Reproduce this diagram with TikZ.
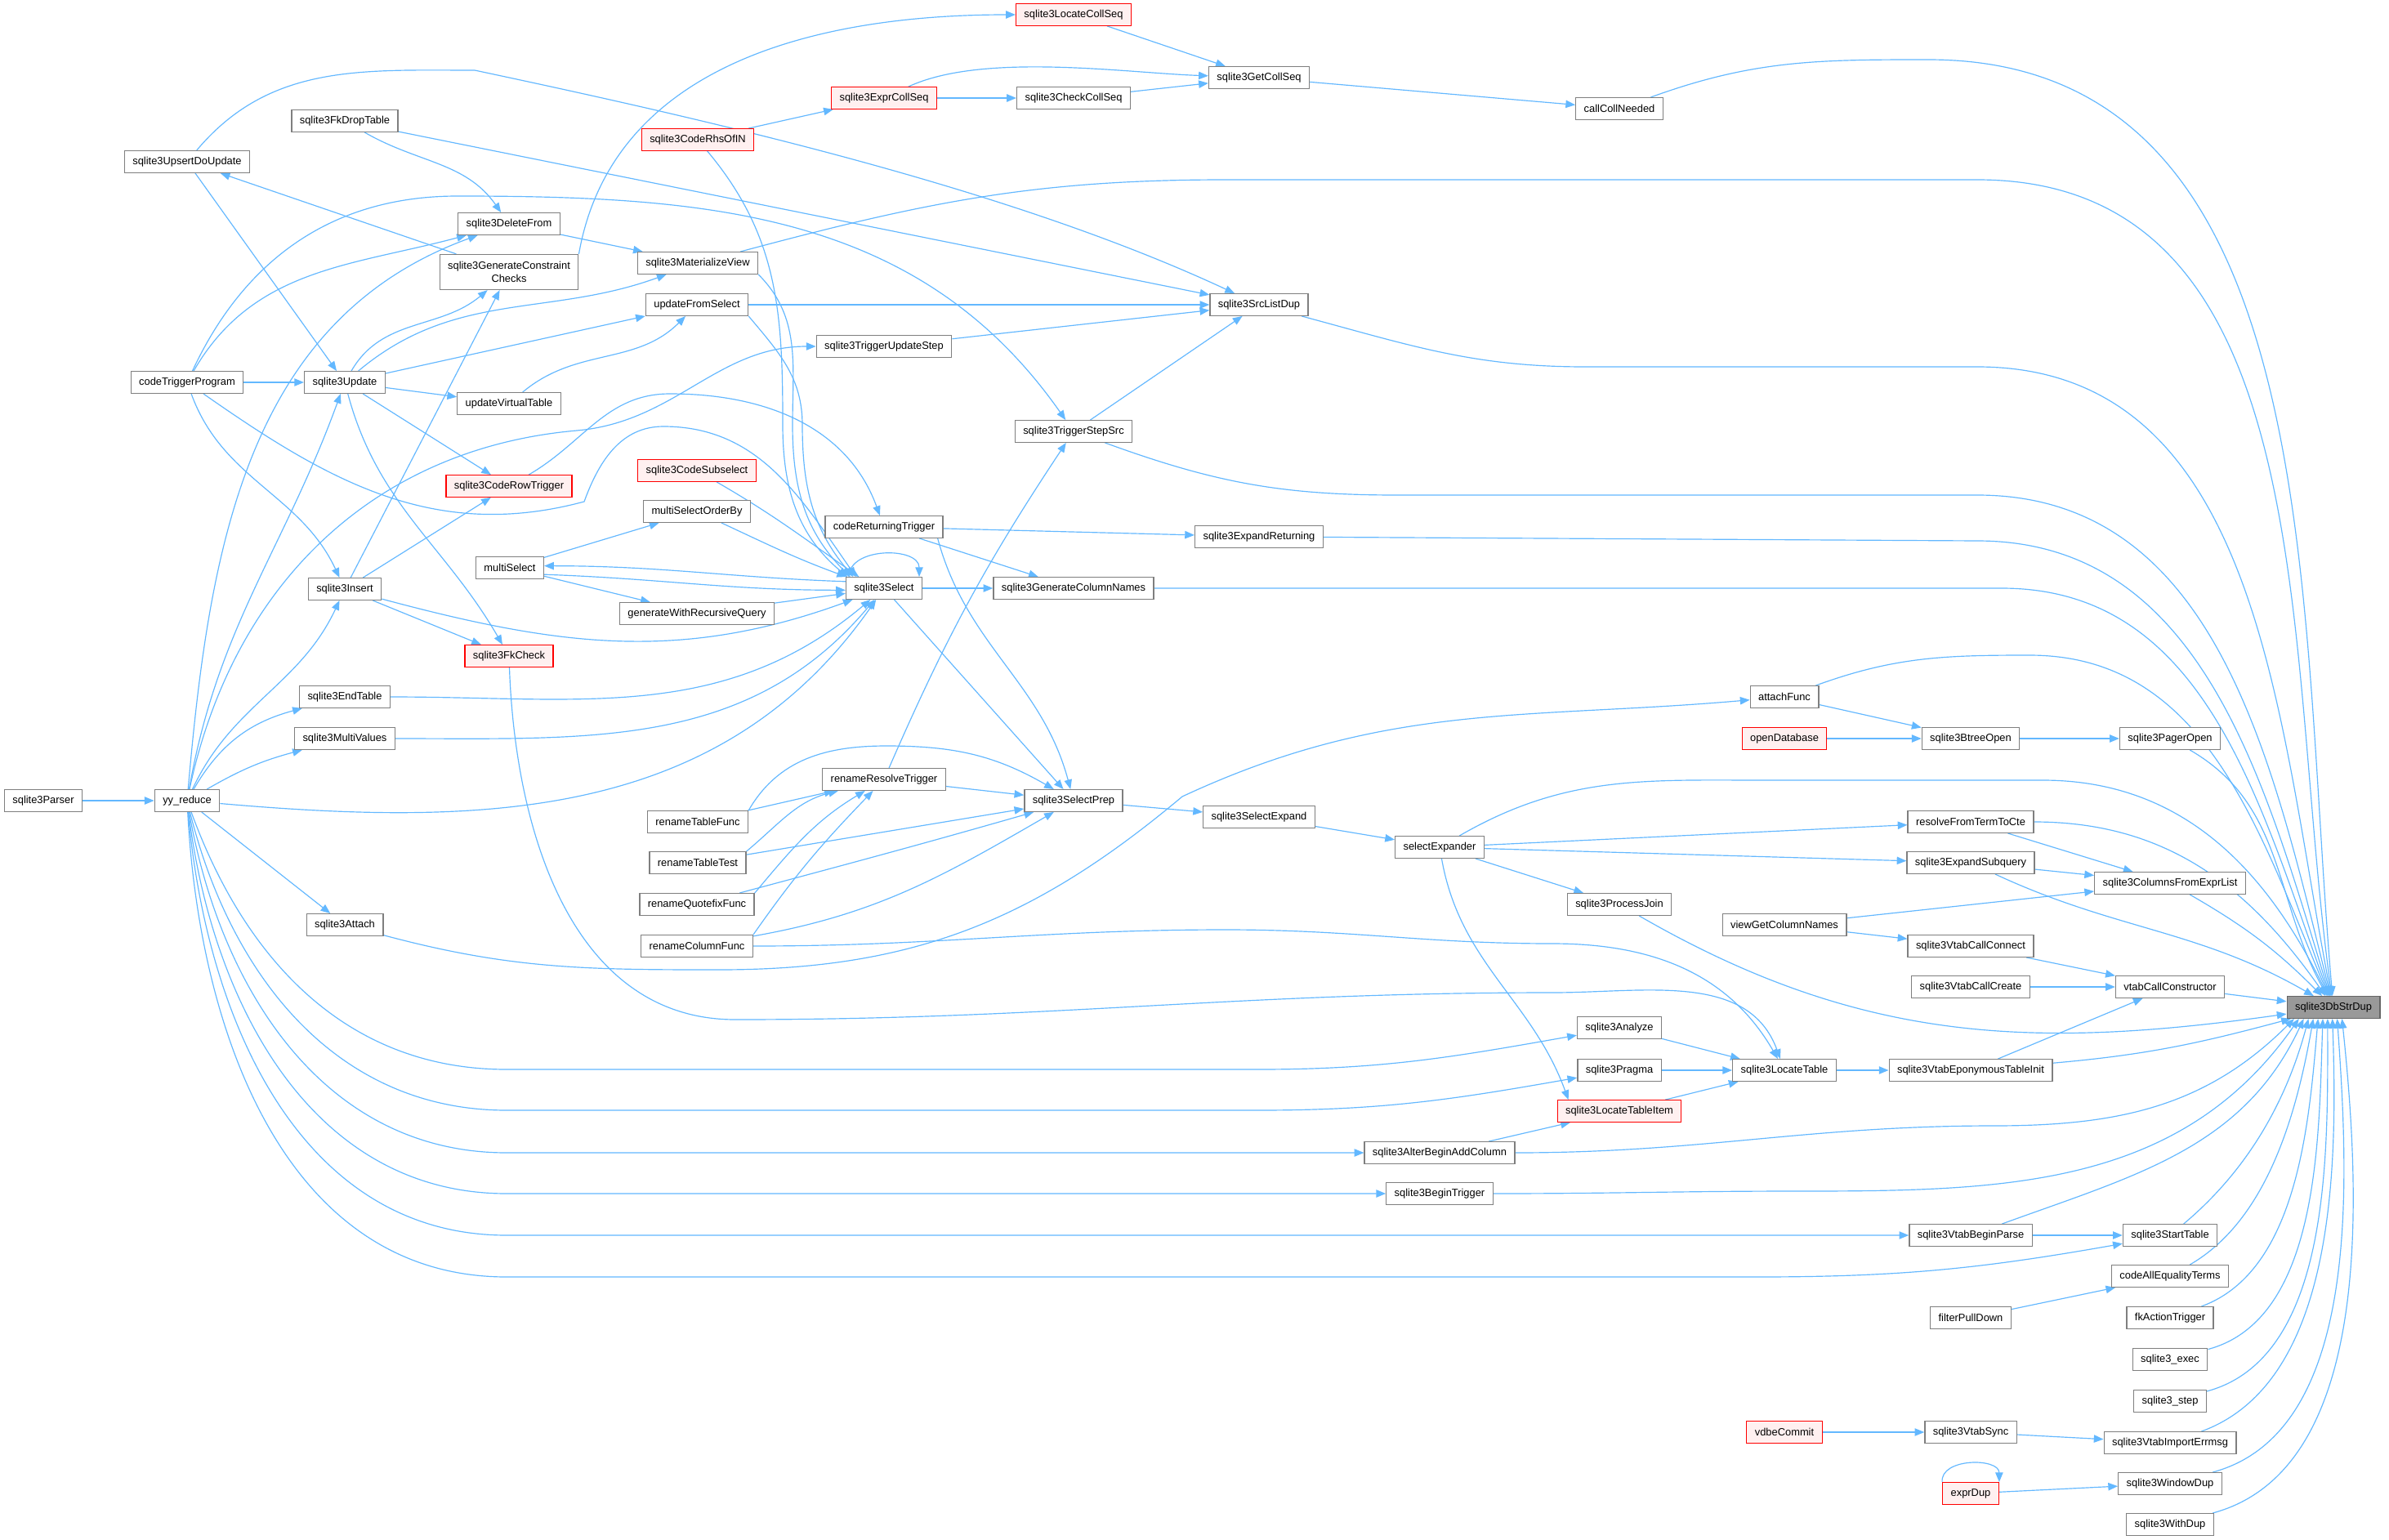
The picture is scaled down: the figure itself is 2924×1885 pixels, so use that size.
\documentclass[tikz,border=0pt]{standalone}
\usepackage{fontspec}
\setmainfont{Liberation Sans}
\usetikzlibrary{arrows.meta}
\definecolor{callblue}{HTML}{63B8FF}
\definecolor{boxgray}{HTML}{7F7F7F}
\definecolor{redfill}{HTML}{FFF0F0}
\definecolor{rootfill}{HTML}{999999}
\definecolor{rootdraw}{HTML}{666666}
\pgfdeclarelayer{paper}
\pgfdeclarelayer{wires}
\pgfsetlayers{paper,wires,main}

\begin{document}
\begin{tikzpicture}[x=0.03cm, y=0.03cm, >={Triangle[length=10pt,width=8pt]},
func/.style={draw=boxgray, fill=white, line width=1.1pt, inner xsep=8.5pt, inner ysep=0pt, minimum height=0.8cm, font=\fontsize{11}{14}\selectfont},
redfunc/.style={func, draw=red, fill=redfill, line width=1pt},
root/.style={func, draw=rootdraw, fill=rootfill},
call/.style={->, draw=callblue, line width=1pt}]

\begin{pgfonlayer}{paper}
\fill[white] (0,0) rectangle (2924,-1885);
\end{pgfonlayer}
\useasboundingbox (0,0) rectangle (2924,-1885);

\node[func]    (1)  at (53,-980)    {sqlite3Parser};
\node[func]    (2)  at (229,-198)   {sqlite3UpsertDoUpdate};
\node[func]    (3)  at (229,-468)   {codeTriggerProgram};
\node[func]    (4)  at (229,-980)   {yy\_reduce};
\node[func]    (5)  at (422,-148)   {sqlite3FkDropTable};
\node[func]    (6)  at (422,-468)   {sqlite3Update};
\node[func]    (7)  at (422,-721)   {sqlite3Insert};
\node[func]    (8)  at (422,-853)   {sqlite3EndTable};
\node[func]    (9)  at (422,-904)   {sqlite3MultiValues};
\node[func]    (10) at (422,-1132)  {sqlite3Attach};
\node[func]    (11) at (623,-274)   {sqlite3DeleteFrom};
\node[func, align=center, minimum height=1.29cm] (12) at (623,-333) {sqlite3GenerateConstraint\\Checks};
\node[func]    (13) at (623,-494)   {updateVirtualTable};
\node[redfunc] (14) at (623,-595)   {sqlite3CodeRowTrigger};
\node[func]    (15) at (624,-695)   {multiSelect};
\node[redfunc] (16) at (623,-803)   {sqlite3FkCheck};
\node[redfunc] (17) at (854,-171)   {sqlite3CodeRhsOfIN};
\node[func]    (18) at (854,-322)   {sqlite3MaterializeView};
\node[func]    (19) at (853,-373)   {updateFromSelect};
\node[redfunc] (20) at (853,-576)   {sqlite3CodeSubselect};
\node[func]    (21) at (853,-626)   {multiSelectOrderBy};
\node[func]    (22) at (853,-751)   {generateWithRecursiveQuery};
\node[func]    (23) at (854,-1006)  {renameTableFunc};
\node[func]    (24) at (854,-1056)  {renameTableTest};
\node[func]    (25) at (853,-1107)  {renameQuotefixFunc};
\node[func]    (26) at (853,-1158)  {renameColumnFunc};
\node[redfunc] (27) at (1082,-120)  {sqlite3ExprCollSeq};
\node[func]    (28) at (1082,-424)  {sqlite3TriggerUpdateStep};
\node[func]    (29) at (1082,-645)  {codeReturningTrigger};
\node[func]    (30) at (1082,-720)  {sqlite3Select};
\node[func]    (31) at (1082,-954)  {renameResolveTrigger};
\node[redfunc] (32) at (1314,-18)   {sqlite3LocateCollSeq};
\node[func]    (33) at (1314,-120)  {sqlite3CheckCollSeq};
\node[func]    (34) at (1314,-528)  {sqlite3TriggerStepSrc};
\node[func]    (35) at (1314,-720)  {sqlite3GenerateColumnNames};
\node[func]    (36) at (1314,-980)  {sqlite3SelectPrep};
\node[func]    (37) at (1541,-95)   {sqlite3GetCollSeq};
\node[func]    (38) at (1541,-373)  {sqlite3SrcListDup};
\node[func]    (39) at (1541,-657)  {sqlite3ExpandReturning};
\node[func]    (40) at (1541,-1000) {sqlite3SelectExpand};
\node[func]    (41) at (1762,-1037) {selectExpander};
\node[func]    (42) at (1762,-1411) {sqlite3AlterBeginAddColumn};
\node[func]    (43) at (1762,-1461) {sqlite3BeginTrigger};
\node[func]    (44) at (1982,-133)  {callCollNeeded};
\node[func]    (45) at (1982,-1107) {sqlite3ProcessJoin};
\node[func]    (46) at (1982,-1258) {sqlite3Analyze};
\node[func]    (47) at (1982,-1310) {sqlite3Pragma};
\node[redfunc] (48) at (1982,-1360) {sqlite3LocateTableItem};
\node[func]    (49) at (2184,-853)  {attachFunc};
\node[redfunc] (50) at (2184,-904)  {openDatabase};
\node[func]    (51) at (2184,-1132) {viewGetColumnNames};
\node[func]    (52) at (2184,-1310) {sqlite3LocateTable};
\node[redfunc] (53) at (2184,-1753) {vdbeCommit};
\node[func]    (54) at (2412,-904)  {sqlite3BtreeOpen};
\node[func]    (55) at (2412,-1006) {resolveFromTermToCte};
\node[func]    (56) at (2412,-1056) {sqlite3ExpandSubquery};
\node[func]    (57) at (2412,-1158) {sqlite3VtabCallConnect};
\node[func]    (58) at (2412,-1208) {sqlite3VtabCallCreate};
\node[func]    (59) at (2412,-1310) {sqlite3VtabEponymousTableInit};
\node[func]    (60) at (2412,-1512) {sqlite3VtabBeginParse};
\node[func]    (61) at (2412,-1613) {filterPullDown};
\node[func]    (62) at (2412,-1753) {sqlite3VtabSync};
\node[redfunc] (63) at (2412,-1828) {exprDup};
\node[func]    (64) at (2656,-904)  {sqlite3PagerOpen};
\node[func]    (65) at (2656,-1081) {sqlite3ColumnsFromExprList};
\node[func]    (66) at (2656,-1208) {vtabCallConstructor};
\node[func]    (67) at (2656,-1512) {sqlite3StartTable};
\node[func]    (68) at (2656,-1562) {codeAllEqualityTerms};
\node[func]    (69) at (2656,-1613) {fkActionTrigger};
\node[func]    (70) at (2656,-1664) {sqlite3\_exec};
\node[func]    (71) at (2656,-1715) {sqlite3\_step};
\node[func]    (72) at (2656,-1766) {sqlite3VtabImportErrmsg};
\node[func]    (73) at (2656,-1816) {sqlite3WindowDup};
\node[func]    (74) at (2656,-1866) {sqlite3WithDup};
\node[root]    (75) at (2856,-1233) {sqlite3DbStrDup};

\begin{pgfonlayer}{wires}
\draw[call] (1) -- (4);
\draw[call] (4) to[out=80,in=250] (6);
\draw[call] (4) to[out=85,in=200] (11);
\draw[call] (4) to[out=65,in=245] (7);
\draw[call] (4) to[out=60,in=195] (8);
\draw[call] (4) to[out=30,in=195] (9);
\draw[call] (4) -- (10);
\draw[call] (4) to[out=-5,in=235] (30);
\draw[call] (4) to[out=78,in=185] (706,-527) to[out=5,in=180] (28);
\draw[call] (4) to[out=-70,in=180] (620,-1309) -- (1540,-1309) to[out=0,in=190] (46);
\draw[call] (4) to[out=-76,in=180] (620,-1359) -- (1540,-1359) to[out=0,in=190] (47);
\draw[call] (4) to[out=-80,in=180] (620,-1411) -- (42);
\draw[call] (4) to[out=-83,in=180] (620,-1461) -- (43);
\draw[call] (4) to[out=-85,in=180] (620,-1512) -- (60);
\draw[call] (4) to[out=-87,in=180] (620,-1563) -- (2150,-1563) to[out=0,in=190] (67);
\draw[call] (3) -- (6);
\draw[call] (3) to[out=60,in=195] (11);
\draw[call] (3) to[out=65,in=180] (560,-240) to[out=0,in=125] (34);
\draw[call] (3) to[out=-70,in=115] (7);
\draw[call] (3) to[out=-35,in=195] (715,-614) to[out=70,in=180] (812,-522) to[out=0,in=125] ([xshift=11pt]30.north west);
\draw[call] (2) -- (6);
\draw[call] (2) to[out=50,in=180] (581,-86) to[out=-12,in=155,looseness=0.8] (38);
\draw[call] (5) to[out=-30,in=125] (11);
\draw[call] (5) -- (38);
\draw[call] (6) to[out=60,in=220] (12);
\draw[call] (6) to[out=40,in=200] (18);
\draw[call] (6) -- (19);
\draw[call] (6) -- (13);
\draw[call] (6) -- (14);
\draw[call] (6) to[out=-75,in=120] (16);
\draw[call] (7) -- (12);
\draw[call] (7) -- (14);
\draw[call] (7) -- (16);
\draw[call] (7) to[out=-15,in=200] (30);
\draw[call] (8) to[out=0,in=220] (30);
\draw[call] (9) to[out=0,in=230] (30);
\draw[call] (10) to[out=-15,in=180] (880,-1187) to[out=0,in=220] (1447,-975) to[out=25,in=185] (49);
\draw[call] (11) -- (18);
\draw[call] (12) -- (2);
\draw[call] (12.north east) to[out=80,in=180] (32);
\draw[call] (13) to[out=40,in=225] (19);
\draw[call] (14) to[out=30,in=180] (820,-482) to[out=0,in=110] (29);
\draw[call] (15) -- (21);
\draw[call] (15) -- (22);
\draw[call] ([yshift=7pt]30.west) to[out=178,in=0] ([yshift=2pt]15.east);
\draw[call] ([yshift=-7pt]15.east) to[out=-2,in=180] ([yshift=-2pt]30.west);
\draw[call] (16) to[out=-88,in=180] (900,-1248) to[out=0,in=180] (1900,-1215) to[out=0,in=110] (52);
\draw[call] (17) -- (27);
\draw[call] (17) to[out=-50,in=90] (958,-520) to[out=-90,in=140] ([xshift=2pt]30.north west);
\draw[call] (18) to[out=15,in=180] (1500,-220) -- (2420,-220) to[out=0,in=98] (75);
\draw[call] (18.south east) to[out=-45,in=90] (970,-520) to[out=-90,in=135] ([xshift=5pt]30.north west);
\draw[call] (19) -- (38);
\draw[call] (19.south east) to[out=-50,in=90] (982,-520) to[out=-90,in=130] ([xshift=8pt]30.north west);
\draw[call] (20) to[out=-30,in=145] ([xshift=14pt]30.north west);
\draw[call] (21) to[out=-25,in=160] ([xshift=1pt]30.north west);
\draw[call] (22) -- (30);
\draw[call] (23) -- (31);
\draw[call] (23.north east) to[out=60,in=180] (1085,-913) to[out=0,in=150] (36);
\draw[call] (24.north east) to[out=40,in=194] (31);
\draw[call] (24) -- (36);
\draw[call] (25.north east) to[out=50,in=211] (31);
\draw[call] (25) to[out=15,in=196] (36);
\draw[call] (26.north east) to[out=55,in=226] (31);
\draw[call] (26) to[out=10,in=210] (36);
\draw[call] (26) to[out=0,in=180] (1500,-1138) to[out=0,in=180] (1900,-1155) to[out=0,in=120] (52);
\draw[call] (27) -- (33);
\draw[call] (27) to[out=25,in=178,looseness=0.7] (37);
\draw[call] (33) -- (37);
\draw[call] (32) -- (37);
\draw[call] (37) -- (44);
\draw[call] (44) to[out=20,in=180] (2360,-73) to[out=0,in=95] (75);
\draw[call] (28) -- (38);
\draw[call] (29) -- (39);
\draw[call] (29) -- (35);
\draw[call] ([xshift=-6pt]29.south east) to[out=-75,in=105] (36);
\draw[call] (30) -- (35);
\draw[call] (30) -- (36);
\draw[call] (30.162) to[out=90,in=90,looseness=1.1] (30.18);
\draw[call] (31) -- (36);
\draw[call] (31) to[bend left=5] (34);
\draw[call] (34) -- (38);
\draw[call] (34) to[out=-20,in=180] (1710,-606) -- (2420,-606) to[out=0,in=104] (75);
\draw[call] (38) to[out=-15,in=180] (1940,-449) -- (2420,-449) to[out=0,in=101] (75);
\draw[call] (39) -- (2420,-662) to[out=0,in=107] (75);
\draw[call] (35) -- (2450,-720) to[out=0,in=110] (75);
\draw[call] (36) -- (40);
\draw[call] (40) -- (41);
\draw[call] (41) to[out=30,in=180] (2160,-955) -- (2500,-955) to[out=0,in=116] (75);
\draw[call] (41) -- (55);
\draw[call] (41) -- (56);
\draw[call] (41) -- (45);
\draw[call] (41) to[out=-80,in=110] ([xshift=12pt]48.north west);
\draw[call] (42) -- (48);
\draw[call] (42) to[out=0,in=180] (2440,-1378) to[out=0,in=225] ([xshift=8pt]75.south west);
\draw[call] (43) to[out=0,in=180] (2200,-1458) to[out=0,in=235] ([xshift=13pt]75.south west);
\draw[call] (46) -- (52);
\draw[call] (47) -- (52);
\draw[call] (48) -- (52);
\draw[call] (52) -- (59);
\draw[call] (49) -- (54);
\draw[call] (49) to[out=20,in=180] (2484,-802) to[out=0,in=113] (75);
\draw[call] (50) -- (54);
\draw[call] (54) -- (64);
\draw[call] (64) to[out=-30,in=119] (75);
\draw[call] (55) -- (65);
\draw[call] (55) to[out=0,in=125] (75);
\draw[call] (56) -- (65);
\draw[call] (56) to[out=-25,in=150] (75);
\draw[call] (51) -- (65);
\draw[call] (51) -- (57);
\draw[call] (65) to[out=-30,in=135] (75);
\draw[call] (57) -- (66);
\draw[call] (58) -- (66);
\draw[call] (59) -- (66);
\draw[call] (59) to[out=5,in=195] (75);
\draw[call] (66) -- (75);
\draw[call] (45) to[out=-30,in=188] (75);
\draw[call] (60) -- (67);
\draw[call] (60) to[out=20,in=245] ([xshift=18pt]75.south west);
\draw[call] (67) to[out=40,in=255,looseness=0.9] ([xshift=23pt]75.south west);
\draw[call] (61) -- (68);
\draw[call] (68) to[out=30,in=260,looseness=0.85] ([xshift=28pt]75.south west);
\draw[call] (69) to[out=20,in=265,looseness=0.85] ([xshift=33pt]75.south west);
\draw[call] (70) to[out=15,in=268,looseness=0.85] ([xshift=38pt]75.south west);
\draw[call] (71) to[out=15,in=270,looseness=0.85] ([xshift=43pt]75.south west);
\draw[call] (72) to[out=20,in=272,looseness=0.85] ([xshift=48pt]75.south west);
\draw[call] (73) to[out=15,in=274,looseness=0.85] ([xshift=53pt]75.south west);
\draw[call] (74) to[out=15,in=276,looseness=0.85] ([xshift=58pt]75.south west);
\draw[call] (53) -- (62);
\draw[call] (62) -- (72);
\draw[call] (63.north west) to[out=95,in=90,looseness=1.1] (63.north east);
\draw[call] (63) -- (73);
\end{pgfonlayer}

\end{tikzpicture}
\end{document}
